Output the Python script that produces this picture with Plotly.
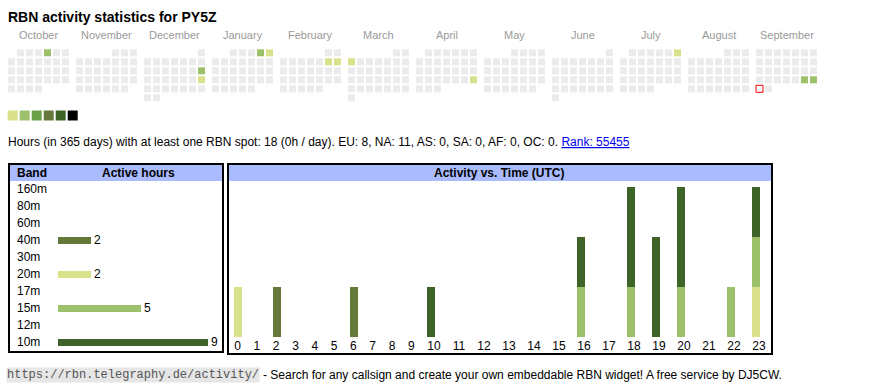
import datetime as dt
import plotly.graph_objects as go

W, H = 870, 390
FONT = "Liberation Sans, Arial, sans-serif"

# ---------------- data ----------------
title_text = "RBN activity statistics for PY5Z"
month_names = ["October", "November", "December", "January", "February", "March",
               "April", "May", "June", "July", "August", "September"]
month_starts = ["2024-10-01", "2024-11-01", "2024-12-01", "2025-01-01", "2025-02-01",
                "2025-03-01", "2025-04-01", "2025-05-01", "2025-06-01", "2025-07-01",
                "2025-08-01", "2025-09-01"]
active_days = ["2024-10-04", "2024-12-15", "2024-12-22", "2025-01-04", "2025-01-05",
               "2025-02-08", "2025-02-09", "2025-03-03", "2025-04-27", "2025-07-06",
               "2025-09-27", "2025-09-28"]
active_levels = [1, 1, 0, 1, 0, 0, 0, 0, 0, 0, 1, 1]
today = "2025-09-29"
level_colors = ["#d9e28a", "#9dc06a", "#6aa046", "#65783a", "#3d6329", "#000000"]

bands = ["160m", "80m", "60m", "40m", "30m", "20m", "17m", "15m", "12m", "10m"]
band_hours = [0, 0, 0, 2, 0, 2, 0, 5, 0, 9]
band_colors = {"40m": "#65783a", "20m": "#d9e28a", "15m": "#9dc06a", "10m": "#3d6329"}

hours = list(range(24))
hrs_40m = [0, 0, 1, 0, 0, 0, 1, 0, 0, 0, 0, 0, 0, 0, 0, 0, 0, 0, 0, 0, 0, 0, 0, 0]
hrs_20m = [1, 0, 0, 0, 0, 0, 0, 0, 0, 0, 0, 0, 0, 0, 0, 0, 0, 0, 0, 0, 0, 0, 0, 1]
hrs_15m = [0, 0, 0, 0, 0, 0, 0, 0, 0, 0, 0, 0, 0, 0, 0, 0, 1, 0, 1, 0, 1, 0, 1, 1]
hrs_10m = [0, 0, 0, 0, 0, 0, 0, 0, 0, 0, 1, 0, 0, 0, 0, 0, 1, 0, 2, 2, 2, 0, 0, 1]

info_text = ("Hours (in 365 days) with at least one RBN spot: 18 (0h / day). "
             "EU: 8, NA: 11, AS: 0, SA: 0, AF: 0, OC: 0. ")
rank_text = "Rank: 55455"
footer_url = "https://rbn.telegraphy.de/activity/"
footer_text = "- Search for any callsign and create your own embeddable RBN widget! A free service by DJ5CW."

# ---------------- layout helpers (pixel page axis) ----------------
def py(v):
    return 1 - v / H

MONTH_PITCH, CELL_PITCH, CAL_LEFT, CAL_TOP = 68, 9, 8, 49.3

def parse(s):
    return dt.date.fromisoformat(s)

starts = [parse(s) for s in month_starts]

def cell_xy(d):
    m = next(i for i, s in enumerate(starts) if s.year == d.year and s.month == d.month)
    idx = starts[m].weekday() + d.day - 1
    row, col = divmod(idx, 7)
    return (CAL_LEFT + MONTH_PITCH * m + CELL_PITCH * col + 3.5,
            CAL_TOP + CELL_PITCH * row + 3.5)

all_days = []
for i, s in enumerate(starts):
    nxt = starts[i + 1] if i + 1 < len(starts) else dt.date(s.year + (s.month == 12), s.month % 12 + 1, 1)
    d = s
    while d < nxt:
        all_days.append(d)
        d += dt.timedelta(days=1)

fig = go.Figure()

# empty calendar cells
act = {parse(s): l for s, l in zip(active_days, active_levels)}
tday = parse(today)
ex, ey = [], []
for d in all_days:
    if d in act or d == tday:
        continue
    x, y = cell_xy(d)
    ex.append(x); ey.append(y)
fig.add_trace(go.Scatter(x=ex, y=ey, mode="markers", xaxis="x", yaxis="y",
                         marker=dict(symbol="square", size=7, color="#ebebeb", line=dict(width=0)),
                         hoverinfo="skip", showlegend=False))
axy = [cell_xy(parse(s)) for s in active_days]
fig.add_trace(go.Scatter(x=[p[0] for p in axy], y=[p[1] for p in axy], mode="markers",
                         xaxis="x", yaxis="y",
                         marker=dict(symbol="square", size=7,
                                     color=[level_colors[l] for l in active_levels], line=dict(width=0)),
                         text=active_days, hoverinfo="text", showlegend=False))
tx, ty = cell_xy(tday)
fig.add_trace(go.Scatter(x=[tx], y=[ty], mode="markers", xaxis="x", yaxis="y",
                         marker=dict(symbol="square", size=7, color="#ffffff",
                                     line=dict(width=1, color="#ff0000")),
                         text=[today], hoverinfo="text", showlegend=False))
# colour legend
fig.add_trace(go.Scatter(x=[12.7 + 12 * i for i in range(len(level_colors))],
                         y=[115.5] * len(level_colors), mode="markers", xaxis="x", yaxis="y",
                         marker=dict(symbol="square", size=10, color=level_colors, line=dict(width=0)),
                         hoverinfo="skip", showlegend=False))

# band bars
fig.add_trace(go.Bar(x=band_hours, y=list(range(len(bands))), orientation="h",
                     xaxis="x3", yaxis="y3", width=0.41,
                     marker=dict(color=[band_colors.get(b, "#ffffff") for b in bands], line=dict(width=0)),
                     text=[str(v) if v else "" for v in band_hours], textposition="outside",
                     constraintext="none",
                     textfont=dict(family=FONT, size=12, color="#000"), cliponaxis=False,
                     hoverinfo="skip", showlegend=False))

# hour bars (table-like columns: width depends on label length)
col_w = {1: 19.3, 2: 25.0}
lefts, x0 = [], 234.0
for h in hours:
    lefts.append(x0)
    x0 += col_w[len(str(h))]
centers = [l + 4 for l in lefts]
for name, arr in [("40m", hrs_40m), ("20m", hrs_20m), ("15m", hrs_15m), ("10m", hrs_10m)]:
    fig.add_trace(go.Bar(x=centers, y=arr, width=8, xaxis="x4", yaxis="y4", name=name,
                         marker=dict(color=band_colors[name], line=dict(width=0)),
                         showlegend=False, hovertemplate=name + ": %{y}<extra></extra>"))

shapes = [
    dict(type="rect", xref="x", yref="y", x0=10, x1=222, y0=165, y1=181,
         fillcolor="#aabbff", line=dict(width=0), layer="below"),
    dict(type="rect", xref="x", yref="y", x0=229, x1=771, y0=165, y1=181,
         fillcolor="#aabbff", line=dict(width=0), layer="below"),
    dict(type="rect", xref="x", yref="y", x0=9, x1=223, y0=164, y1=352,
         line=dict(width=2, color="#000")),
    dict(type="rect", xref="x", yref="y", x0=228, x1=772, y0=164, y1=354,
         line=dict(width=2, color="#000")),
]

ann = []
def A(text, x, y, size=12, color="#000", anchor="left", **kw):
    ann.append(dict(text=text, x=x, y=y, xref=kw.pop("xref", "x"), yref=kw.pop("yref", "y"),
                    xanchor=anchor, yanchor="middle", showarrow=False,
                    font=dict(family=kw.pop("family", FONT), size=size, color=color), **kw))

A("<b>" + title_text + "</b>", 6, 17, size=14)
for i, n in enumerate(month_names):
    A(n, CAL_LEFT + MONTH_PITCH * i + 30.5, 35, size=11, color="#999999", anchor="center")
A(info_text + "<span style='color:#0000ee'><u>" + rank_text + "</u></span>", 6, 142)
A("<b>Band</b>", 15, 173)
A("<b>Active hours</b>", 138, 173, anchor="center")
A("<b>Activity vs. Time (UTC)</b>", 499, 173, anchor="center")
for i, b in enumerate(bands):
    A(b, 15, i, yref="y3")
A(footer_url, 6, 375, size=12, color="#555555", family="Liberation Mono, Courier New, monospace",
  bgcolor="#e6e6e6", borderpad=0)
A(footer_text, 261, 375)

hidden = dict(visible=False, showgrid=False, zeroline=False, fixedrange=True)
fig.update_layout(
    width=W, height=H, margin=dict(l=0, r=0, t=0, b=0),
    paper_bgcolor="#ffffff", plot_bgcolor="rgba(0,0,0,0)",
    barmode="stack", bargap=0,
    xaxis=dict(domain=[0, 1], range=[0, W], **hidden),
    yaxis=dict(domain=[0, 1], range=[H, 0], **hidden),
    xaxis3=dict(domain=[58 / W, 208 / W], range=[0, 9], anchor="y3", **hidden),
    yaxis3=dict(domain=[py(350.8), py(180.8)], range=[9.5, -0.5], anchor="x3", **hidden),
    xaxis4=dict(domain=[0, 1], range=[0, W], anchor="y4", showgrid=False, zeroline=False,
                showline=False, ticks="", tickvals=[l + 3.3 * len(str(h)) + 0.3 for l, h in zip(lefts, hours)],
                ticktext=[str(h) for h in hours], tickfont=dict(family=FONT, size=12, color="#000"),
                fixedrange=True),
    yaxis4=dict(domain=[py(337), py(187)], range=[0, 3], anchor="x4", **hidden),
    shapes=shapes, annotations=ann, showlegend=False,
)

fig.write_html("out.html", config={"displayModeBar": False},
               post_script="document.body.style.margin='0';")
